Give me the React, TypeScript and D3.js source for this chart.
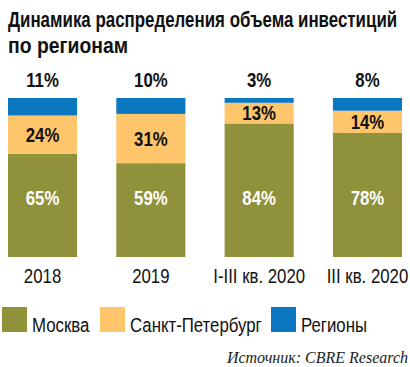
import React, { useLayoutEffect, useRef, useState } from "react";
import * as d3 from "d3";

// data
const periods = ["2018", "2019", "I-III кв. 2020", "III кв. 2020"];
const moscow = [65, 59, 84, 78];
const spb = [24, 31, 13, 14];
const regions = [11, 10, 3, 8];
const seriesNames = ["Москва", "Санкт-Петербург", "Регионы"];
const seriesKeys = ["moscow", "spb", "regions"];
const colors = ["#8f913b", "#fec56a", "#0a77c0"];
const titleLines = ["Динамика распределения объема инвестиций", "по регионам"];

const W = 410;
const H = 367;
const font = "'Liberation Sans', Arial, sans-serif";

// narrow text: the original uses a condensed face, so squeeze a regular one
function NText(props: { x: number; y: number; bold?: boolean; size: number; fill?: string; anchor?: string; sx?: number; dy?: string; children: any }) {
  const sx = props.sx ?? (props.bold ? 0.84 : 0.8);
  return (
    <text transform={`translate(${props.x},${props.y}) scale(${sx},1)`}
      textAnchor={props.anchor || "start"} dy={props.dy}
      fontFamily={font} fontWeight={props.bold ? "bold" : "normal"}
      fontSize={props.size} fill={props.fill || "#111"}>
      {props.children}
    </text>
  );
}

// title line squeezed to a given width
function FitText(props: { x: number; y: number; width: number; size: number; children: any }) {
  const ref = useRef<SVGTextElement>(null);
  const [sx, setSx] = useState(0.8);
  useLayoutEffect(() => {
    if (ref.current) {
      const len = ref.current.getComputedTextLength();
      if (len > 0) setSx(props.width / len);
    }
  }, [props.width]);
  return (
    <text ref={ref} transform={`translate(${props.x},${props.y}) scale(${sx},1)`}
      fontFamily={font} fontWeight="bold" fontSize={props.size} fill="#111">
      {props.children}
    </text>
  );
}

export default function App() {
  const rows = periods.map((p, i) => ({
    period: p,
    moscow: moscow[i],
    spb: spb[i],
    regions: regions[i],
  }));

  const x = d3.scaleBand().domain(periods).range([8, 402]).paddingInner(0.362).paddingOuter(0);
  const y = d3.scaleLinear().domain([0, 100]).range([257, 98]);
  const stacked = d3.stack<any>().keys(seriesKeys)(rows);
  const cx = (p: string) => x(p)! + x.bandwidth() / 2;

  // legend layout
  const legendX = [2, 100, 271];

  return (
    <svg width={W} height={H} style={{ position: "absolute", left: 0, top: 0, background: "#fff" }}>
      {/* title */}
      <FitText x={8} y={27} width={389} size={22}>{titleLines[0]}</FitText>
      <FitText x={8} y={53} width={120} size={22}>{titleLines[1]}</FitText>

      {/* bars */}
      {stacked.map((layer, li) => (
        <g key={layer.key} fill={colors[li]}>
          {layer.map((d, i) => (
            <rect key={i}
              x={x(periods[i])}
              y={y(d[1])}
              width={x.bandwidth()}
              height={y(d[0]) - y(d[1])} />
          ))}
        </g>
      ))}

      {/* regions share above the bars */}
      {rows.map((r) => (
        <NText key={"r" + r.period} x={cx(r.period)} y={87} anchor="middle" bold size={20}>
          {r.regions}%
        </NText>
      ))}

      {/* spb share, centred in its segment */}
      {stacked[1].map((d, i) => (
        <NText key={"s" + i} x={cx(periods[i])} y={(y(d[0]) + y(d[1])) / 2}
          dy="0.36em" anchor="middle" bold size={20}>
          {spb[i]}%
        </NText>
      ))}

      {/* moscow share, all on one level */}
      {moscow.map((v, i) => (
        <NText key={"m" + i} x={cx(periods[i])} y={y(37)} dy="0.36em" anchor="middle" bold size={20} fill="#fff">
          {v}%
        </NText>
      ))}

      {/* category labels */}
      {periods.map((p) => (
        <NText key={"c" + p} x={cx(p)} y={283} anchor="middle" size={21}>
          {p}
        </NText>
      ))}

      {/* legend */}
      {seriesNames.map((n, i) => (
        <g key={n} transform={`translate(${legendX[i]},307)`}>
          <rect width={25} height={25} fill={colors[i]} />
          <NText x={30} y={25} size={21}>{n}</NText>
        </g>
      ))}

      {/* source */}
      <text x={408} y={363} textAnchor="end" fontFamily="'Liberation Serif', 'DejaVu Serif', serif"
        fontStyle="italic" fontSize={16} fill="#222">
        Источник: CBRE Research
      </text>
    </svg>
  );
}
